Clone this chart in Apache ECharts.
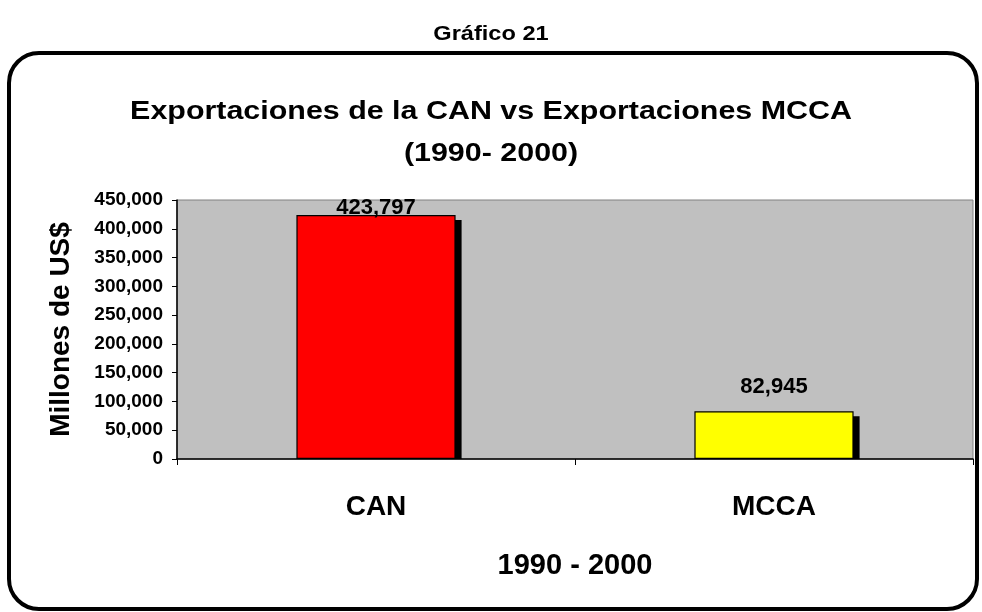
<!DOCTYPE html>
<html>
<head>
<meta charset="utf-8">
<script src="https://cdn.jsdelivr.net/npm/echarts@6/dist/echarts.min.js"></script>
<style>
  html, body { margin: 0; padding: 0; background: #fff; }
  #chart { width: 982px; height: 612px; }
</style>
</head>
<body>
<div id="chart"></div>
<script>
const categories = ['CAN', 'MCCA']
const exportValues = [423797, 82945]
const barColors = ['#FF0000', '#FFFF00']

const font = 'Arial, "Liberation Sans", sans-serif'
const myChart = echarts.init(document.getElementById('chart'))

function fmt (v) {
  return v.toLocaleString('en-US')
}

// title texts, stretched a bit wider like the original
function titleText (text, y, size, sx) {
  return {
    type: 'text',
    x: 491,
    y: y,
    scaleX: sx,
    style: {
      text: text,
      fontFamily: font,
      fontWeight: 'bold',
      fontSize: size,
      fill: '#000',
      textAlign: 'center',
      textVerticalAlign: 'middle'
    }
  }
}

myChart.setOption({
  backgroundColor: '#fff',
  animation: false,
  graphic: [
    titleText('Gráfico 21', 34, 20, 1.18),
    titleText('Exportaciones de la CAN vs Exportaciones MCCA', 112, 26, 1.17),
    titleText('(1990- 2000)', 154, 26, 1.17),
    {
      type: 'rect',
      shape: { x: 9, y: 53, width: 968, height: 556, r: 30 },
      style: { fill: 'none', stroke: '#000', lineWidth: 4 },
      z: 100
    }
  ],
  grid: {
    left: 177,
    right: 9,
    top: 200,
    bottom: 153,
    show: true,
    backgroundColor: '#C0C0C0',
    borderColor: '#808080',
    borderWidth: 1
  },
  xAxis: {
    type: 'category',
    data: categories,
    name: '1990 - 2000',
    nameLocation: 'middle',
    nameGap: 92,
    nameTextStyle: { fontFamily: font, fontWeight: 'bold', fontSize: 29, color: '#000' },
    axisLine: { lineStyle: { color: '#000', width: 1.5 } },
    axisTick: { show: true, length: 6, lineStyle: { color: '#000' } },
    axisLabel: { fontFamily: font, fontWeight: 'bold', fontSize: 28, color: '#000', margin: 34 },
    z: 10
  },
  yAxis: {
    type: 'value',
    min: 0,
    max: 450000,
    interval: 50000,
    name: 'Millones de US$',
    nameLocation: 'middle',
    nameGap: 102,
    nameRotate: 90,
    nameTextStyle: { fontFamily: font, fontWeight: 'bold', fontSize: 28, color: '#000' },
    axisLine: { show: true, lineStyle: { color: '#000', width: 1.5 } },
    axisTick: { show: true, length: 5, lineStyle: { color: '#000' } },
    splitLine: { show: false },
    axisLabel: {
      fontFamily: font, fontWeight: 'bold', fontSize: 19, color: '#000', margin: 14,
      formatter: v => fmt(v)
    },
    z: 10
  },
  series: [
    {
      // drop shadow behind each bar
      type: 'custom',
      silent: true,
      z: 1,
      clip: true,
      data: exportValues.map((v, i) => [i, v]),
      renderItem: function (params, api) {
        const top = api.coord([api.value(0), api.value(1)])
        const base = api.coord([api.value(0), 0])
        const band = api.size([1, 0])[0]
        const w = band * 0.4
        return {
          type: 'rect',
          shape: { x: top[0] - w / 2 + 6, y: top[1] + 5, width: w, height: base[1] - top[1] - 5 },
          style: { fill: '#000' }
        }
      }
    },
    {
      type: 'bar',
      z: 2,
      barWidth: '40%',
      data: exportValues.map((v, i) => ({
        value: v,
        itemStyle: { color: barColors[i] },
        label: i === 0 ? { distance: -4 } : { distance: 13 }
      })),
      itemStyle: { borderColor: '#000', borderWidth: 1.2 },
      label: {
        show: true,
        position: 'top',
        fontFamily: font,
        fontWeight: 'bold',
        fontSize: 22,
        color: '#000',
        formatter: p => fmt(p.value)
      }
    }
  ]
})
window.addEventListener('resize', () => {
  myChart.resize()
})
</script>
</body>
</html>
